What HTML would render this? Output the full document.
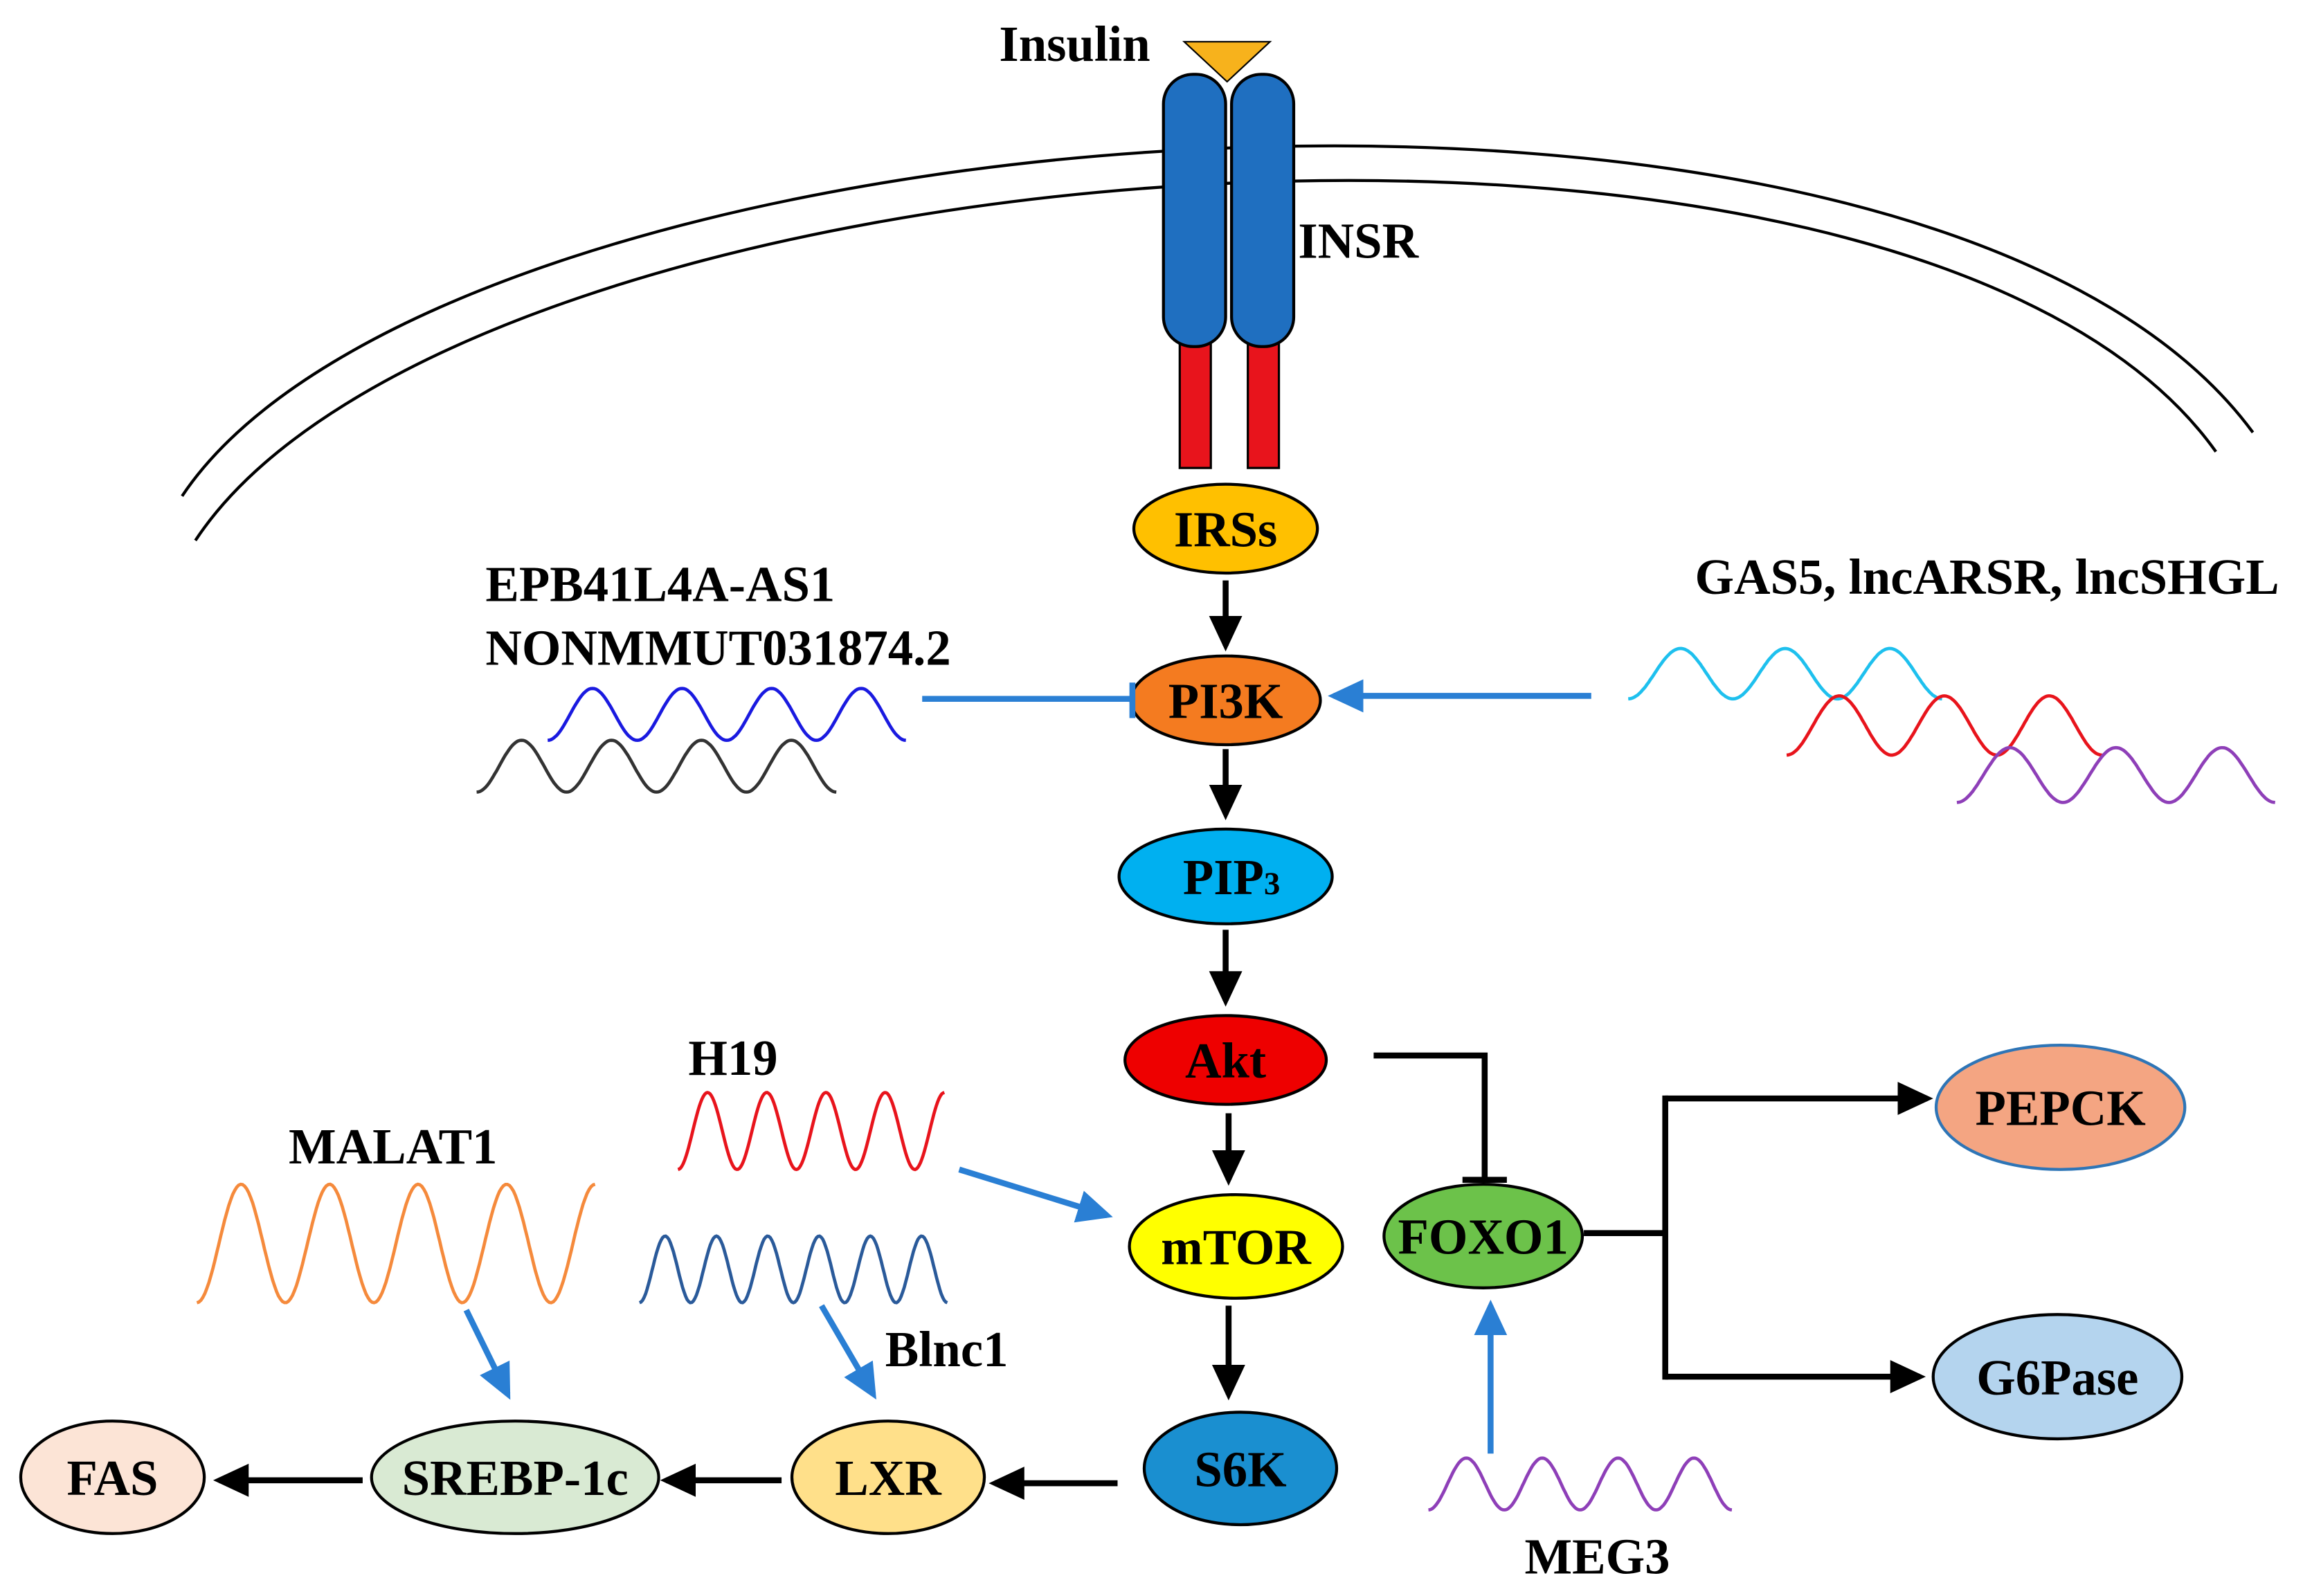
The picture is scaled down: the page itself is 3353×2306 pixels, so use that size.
<!DOCTYPE html>
<html><head><meta charset="utf-8">
<style>html,body{margin:0;padding:0;background:#fff}svg{display:block}text{font-family:"Liberation Serif",serif;font-weight:bold}</style>
</head><body>
<svg id="s" width="3353" height="2306" viewBox="0 0 1568 1078" xmlns="http://www.w3.org/2000/svg">
<defs>
<marker id="ab" markerWidth="8" markerHeight="8" refX="5" refY="4" orient="auto" markerUnits="strokeWidth"><path d="M0,1.2 L6,4 L0,6.8 Z" fill="#000"/></marker>
<marker id="au" markerWidth="8" markerHeight="8" refX="5" refY="4" orient="auto" markerUnits="strokeWidth"><path d="M0,1.2 L6,4 L0,6.8 Z" fill="#2a7fd4"/></marker>
</defs>
<path d="M123,335 C300,70 1300,-10 1522,292" fill="none" stroke="#000" stroke-width="2"/>
<path d="M132,365 C310,95 1290,15 1497,305" fill="none" stroke="#000" stroke-width="2"/>
<rect x="797" y="232" width="21" height="84" fill="#e8141c" stroke="#000" stroke-width="1.5"/>
<rect x="843" y="232" width="21" height="84" fill="#e8141c" stroke="#000" stroke-width="1.5"/>
<rect x="786" y="50" width="42" height="184" rx="20" fill="#1f6fc0" stroke="#000" stroke-width="2"/>
<rect x="832" y="50" width="42" height="184" rx="20" fill="#1f6fc0" stroke="#000" stroke-width="2"/>
<path d="M800,28 L858,28 L829,55 Z" fill="#f7b21c" stroke="#000" stroke-width="1"/>
<text x="675" y="41" font-size="34">Insulin</text>
<text x="877" y="174" font-size="34">INSR</text>
<g stroke="#000" stroke-width="2">
<ellipse cx="828" cy="357" rx="62" ry="30" fill="#FFC000"/>
<ellipse cx="828" cy="473" rx="64" ry="30" fill="#F47B20"/>
<ellipse cx="828" cy="592" rx="72" ry="32" fill="#00B0F0"/>
<ellipse cx="828" cy="716" rx="68" ry="30" fill="#ee0000"/>
<ellipse cx="835" cy="842" rx="72" ry="35" fill="#ffff00"/>
<ellipse cx="838" cy="992" rx="65" ry="38" fill="#1a8fd0"/>
<ellipse cx="1002" cy="835" rx="67" ry="35" fill="#6CC24A"/>
<ellipse cx="1392" cy="748" rx="84" ry="42" fill="#F4A582" stroke="#2e75b6"/>
<ellipse cx="1390" cy="930" rx="84" ry="42" fill="#B4D4EE"/>
<ellipse cx="600" cy="998" rx="65" ry="38" fill="#FFE08A"/>
<ellipse cx="348" cy="998" rx="97" ry="38" fill="#D9EAD3"/>
<ellipse cx="76" cy="998" rx="62" ry="38" fill="#FCE4D6"/>
</g>
<g font-size="34" text-anchor="middle">
<text x="828" y="369">IRSs</text>
<text x="828" y="485">PI3K</text>
<text x="832" y="604">PIP<tspan font-size="22">3</tspan></text>
<text x="828" y="728">Akt</text>
<text x="835" y="854">mTOR</text>
<text x="838" y="1004">S6K</text>
<text x="1002" y="847">FOXO1</text>
<text x="1392" y="760">PEPCK</text>
<text x="1390" y="942">G6Pase</text>
<text x="600" y="1010">LXR</text>
<text x="348" y="1010">SREBP-1c</text>
<text x="76" y="1010">FAS</text>
</g>
<g stroke="#000" stroke-width="4" fill="none" marker-end="url(#ab)">
<line x1="828" y1="392" x2="828" y2="436"/>
<line x1="828" y1="506" x2="828" y2="550"/>
<line x1="828" y1="628" x2="828" y2="676"/>
<line x1="830" y1="752" x2="830" y2="797"/>
<line x1="830" y1="882" x2="830" y2="942"/>
<line x1="755" y1="1002" x2="672" y2="1002"/>
<line x1="528" y1="1000" x2="450" y2="1000"/>
<line x1="245" y1="1000" x2="148" y2="1000"/>
<line x1="1125" y1="742" x2="1302" y2="742"/>
<line x1="1125" y1="930" x2="1297" y2="930"/>
</g>
<g stroke="#000" stroke-width="4" fill="none">
<polyline points="928,713 1003,713 1003,797"/>
<line x1="988" y1="797" x2="1018" y2="797"/>
<line x1="1070" y1="833" x2="1125" y2="833"/>
<line x1="1125" y1="740" x2="1125" y2="932"/>
</g>
<g stroke="#2a7fd4" stroke-width="4" fill="none">
<line x1="648" y1="790" x2="748" y2="821" marker-end="url(#au)"/>
<line x1="555" y1="882" x2="590" y2="942" marker-end="url(#au)"/>
<line x1="315" y1="885" x2="343" y2="942" marker-end="url(#au)"/>
<line x1="1007" y1="982" x2="1007" y2="882" marker-end="url(#au)"/>
<line x1="1075" y1="470" x2="901" y2="470" marker-end="url(#au)"/>
<line x1="623" y1="472" x2="765" y2="472"/>
<line x1="765" y1="461" x2="765" y2="485"/>
</g>
<g id="waves" fill="none" stroke-width="2.2"></g>
<g font-size="34">
<text x="328" y="406">EPB41L4A-AS1</text>
<text x="328" y="449">NONMMUT031874.2</text>
<text x="1145" y="401">GAS5, lncARSR, lncSHGL</text>
<text x="465" y="726">H19</text>
<text x="195" y="786">MALAT1</text>
<text x="598" y="923">Blnc1</text>
<text x="1030" y="1063">MEG3</text>
</g>
</svg>
<script>
var w=[[370,612,465,500,4,"#1a1ae0"],[322,565,500,535,4,"#333"],[1100,1312,438,472,3,"#1ec0ee"],[1207,1420,470,510,3,"#e8141c"],[1322,1537,505,542,3,"#8e3fb8"],[458,638,738,790,4.5,"#e8141c"],[432,640,835,880,6,"#2a5a9a"],[133,402,800,880,4.5,"#f58a3c"],[965,1170,985,1020,4,"#8e3fb8"]];
var g=document.getElementById("waves");
w.forEach(function(a){var d="";for(var i=0;i<=200;i++){var t=i/200,x=a[0]+(a[1]-a[0])*t,y=(a[2]+a[3])/2+(a[3]-a[2])/2*Math.sin(t*a[4]*2*Math.PI-Math.PI/2)*-1;d+=(i?"L":"M")+x.toFixed(1)+","+y.toFixed(1);}
var p=document.createElementNS("http://www.w3.org/2000/svg","path");p.setAttribute("d",d);p.setAttribute("stroke",a[5]);g.appendChild(p);});
</script>
</body></html>
